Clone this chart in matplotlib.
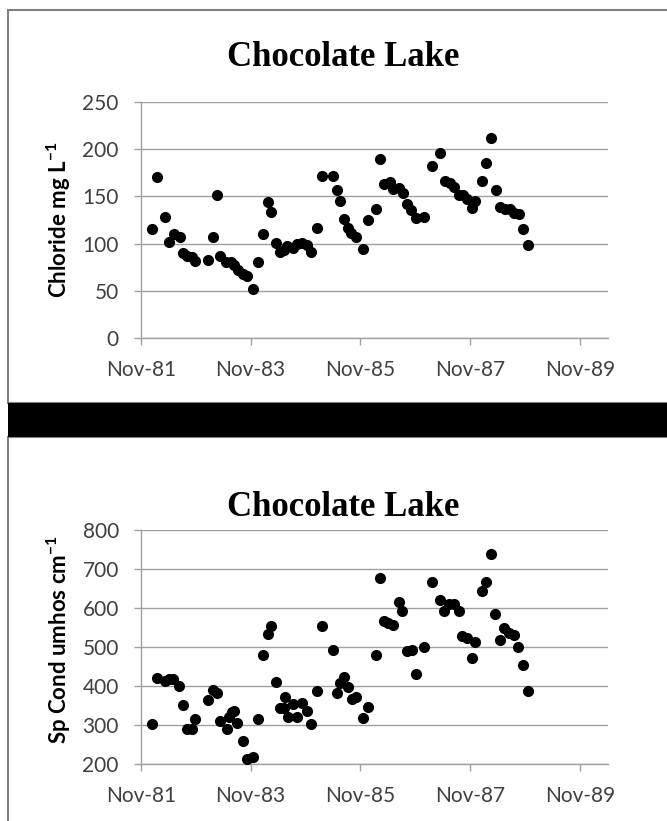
import pandas as pd
import matplotlib
matplotlib.use('Agg')
import matplotlib.pyplot as plt
import matplotlib.dates as mdates
from matplotlib.patches import Rectangle

# chloride (mg/L) sampling dates and values
cl_dates = ['1982-01-12', '1982-02-14', '1982-04-08', '1982-05-07', '1982-06-10', '1982-07-18',
            '1982-08-05', '1982-09-05', '1982-10-04', '1982-10-28', '1983-01-24', '1983-02-26',
            '1983-03-21', '1983-04-13', '1983-05-20', '1983-06-23', '1983-07-15', '1983-08-11',
            '1983-09-14', '1983-10-10', '1983-11-20', '1983-12-19', '1984-01-22', '1984-02-22',
            '1984-03-18', '1984-04-17', '1984-05-14', '1984-06-12', '1984-07-03', '1984-08-06',
            '1984-09-05', '1984-10-05', '1984-11-11', '1984-12-09', '1985-01-19', '1985-02-19',
            '1985-04-30', '1985-05-26', '1985-06-18', '1985-07-12', '1985-08-11', '1985-09-02',
            '1985-10-05', '1985-11-17', '1985-12-24', '1986-02-14', '1986-03-13', '1986-04-07',
            '1986-05-19', '1986-06-06', '1986-07-14', '1986-08-10', '1986-09-07', '1986-10-07',
            '1986-11-08', '1986-12-28', '1987-02-23', '1987-04-13', '1987-05-16', '1987-06-19',
            '1987-07-20', '1987-08-23', '1987-09-17', '1987-10-14', '1987-11-16', '1987-12-03',
            '1988-01-17', '1988-02-13', '1988-03-17', '1988-04-20', '1988-05-16', '1988-06-19',
            '1988-07-22', '1988-08-20', '1988-09-19', '1988-10-19', '1988-11-22']
cl_vals = [115, 171, 128, 102, 110, 107, 90, 87, 86, 82, 83, 107,
           152, 87, 80, 81, 77, 72, 68, 66, 52, 80, 110, 144,
           134, 101, 91, 93, 97, 95, 100, 101, 98, 91, 116, 172,
           172, 157, 145, 126, 117, 111, 107, 94, 125, 137, 190, 163,
           165, 158, 159, 154, 142, 136, 127, 128, 182, 196, 166, 164,
           160, 151, 152, 147, 138, 145, 166, 185, 212, 157, 139, 137,
           137, 132, 131, 115, 98]

# specific conductance (umhos/cm)
sc_dates = ['1982-01-12', '1982-02-14', '1982-04-08', '1982-05-07', '1982-06-03', '1982-07-13',
            '1982-08-08', '1982-09-05', '1982-10-04', '1982-10-28', '1983-01-24', '1983-02-26',
            '1983-03-22', '1983-04-13', '1983-05-25', '1983-06-07', '1983-06-27', '1983-07-15',
            '1983-08-03', '1983-09-08', '1983-10-05', '1983-11-20', '1983-12-19', '1984-01-22',
            '1984-02-22', '1984-03-18', '1984-04-17', '1984-05-14', '1984-06-12', '1984-06-20',
            '1984-07-10', '1984-08-06', '1984-09-05', '1984-10-05', '1984-11-11', '1984-12-09',
            '1985-01-19', '1985-02-19', '1985-04-30', '1985-05-26', '1985-06-18', '1985-07-12',
            '1985-08-11', '1985-09-06', '1985-10-05', '1985-11-17', '1985-12-24', '1986-02-14',
            '1986-03-13', '1986-04-06', '1986-05-05', '1986-06-06', '1986-07-14', '1986-08-08',
            '1986-09-05', '1986-10-11', '1986-11-09', '1986-12-28', '1987-02-23', '1987-04-13',
            '1987-05-14', '1987-06-12', '1987-07-20', '1987-08-23', '1987-09-10', '1987-10-09',
            '1987-11-16', '1987-12-03', '1988-01-17', '1988-02-13', '1988-03-17', '1988-04-15',
            '1988-05-16', '1988-06-14', '1988-07-18', '1988-08-20', '1988-09-17', '1988-10-19',
            '1988-11-22']
sc_vals = [302, 420, 413, 417, 417, 400, 351, 291, 291, 315, 363, 391,
           381, 310, 289, 321, 333, 336, 305, 259, 212, 218, 315, 479,
           534, 554, 409, 344, 344, 371, 321, 354, 321, 356, 336, 303,
           388, 554, 492, 381, 407, 422, 398, 367, 373, 317, 345, 479,
           678, 567, 562, 556, 615, 593, 490, 492, 432, 499, 667, 620,
           593, 610, 610, 593, 528, 522, 473, 514, 644, 667, 738, 585,
           518, 548, 535, 531, 499, 454, 388]

title = 'Chocolate Lake'
cl_label = 'Chloride mg L$^{\\mathbf{-1}}$'
sc_label = 'Sp Cond umhos cm$^{\\mathbf{-1}}$'
tick_dates = ['1981-11-01', '1983-11-01', '1985-11-01', '1987-11-01', '1989-11-01']

grid_col = '#a0a0a0'
text_col = '#404040'
tick_font = 'Lato'

plt.rcParams['mathtext.fontset'] = 'custom'
plt.rcParams['mathtext.rm'] = 'Lato'
plt.rcParams['mathtext.bf'] = 'Lato:bold'
plt.rcParams['axes.unicode_minus'] = False

fig = plt.figure(figsize=(6.67, 8.21), dpi=100)

# panel frames and the black divider
fig.patches.append(Rectangle((8 / 667, 1 - 403 / 821), 1.0, 393 / 821, transform=fig.transFigure,
                             facecolor='white', edgecolor='#808080', lw=1.5, zorder=-5))
fig.patches.append(Rectangle((8 / 667, -0.01), 1.0, 1 - 437 / 821 + 0.01, transform=fig.transFigure,
                             facecolor='white', edgecolor='#808080', lw=1.5, zorder=-5))
fig.patches.append(Rectangle((8 / 667, 1 - 437 / 821), 1.0, 34 / 821, transform=fig.transFigure,
                             facecolor='black', edgecolor='none', zorder=-4))


def panel(rect, dates, vals, ylim, yticks, ylabel, label_y, title_y):
    ax = fig.add_axes(rect)
    ax.patch.set_alpha(0)
    x = pd.to_datetime(dates)
    ax.plot(x, vals, 'o', color='black', ms=7, mec='black', clip_on=False, zorder=3)
    ax.set_ylim(*ylim)
    ax.set_yticks(yticks)
    ax.set_xlim(pd.Timestamp('1981-11-01'), pd.Timestamp('1990-05-08'))
    ax.set_xticks(pd.to_datetime(tick_dates))
    ax.xaxis.set_major_formatter(mdates.DateFormatter('%b-%y'))
    ax.grid(axis='y', color=grid_col, lw=1)
    ax.set_axisbelow(True)
    for s in ['top', 'right']:
        ax.spines[s].set_visible(False)
    for s in ['left', 'bottom']:
        ax.spines[s].set_color(grid_col)
        ax.spines[s].set_linewidth(1)
    ax.tick_params(colors=grid_col, length=5, width=1, labelcolor=text_col, labelsize=15)
    ax.tick_params(axis='x', pad=11)
    ax.tick_params(axis='y', pad=11)
    for lab in ax.get_xticklabels() + ax.get_yticklabels():
        lab.set_family(tick_font)
    fig.text(59 / 667, label_y, ylabel, rotation=90, ha='center', va='center',
             fontsize=16, fontweight='bold', family='Lato', color='black')
    fig.text(343 / 667, title_y, title, ha='center', va='center',
             fontsize=25, fontweight='bold', family='Liberation Serif', color='black')
    return ax


panel([141 / 667, 1 - 338 / 821, 467 / 667, 236 / 821], cl_dates, cl_vals, (0, 250),
      [0, 50, 100, 150, 200, 250], cl_label, 1 - 220 / 821, 1 - 57 / 821)
panel([141 / 667, 1 - 764 / 821, 467 / 667, 234 / 821], sc_dates, sc_vals, (200, 800),
      [200, 300, 400, 500, 600, 700, 800], sc_label, 1 - 640 / 821, 1 - 508 / 821)

fig.savefig('out.png', dpi=100)
